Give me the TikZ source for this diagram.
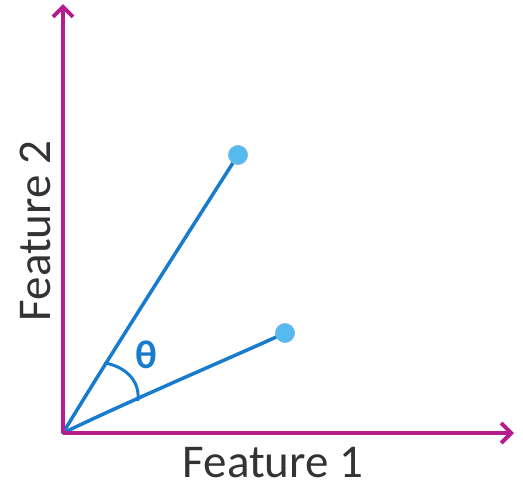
\documentclass[tikz,border=0pt]{standalone}
\usepackage{fontspec}
\setmainfont{Carlito}
\usetikzlibrary{arrows.meta}
\definecolor{axis}{RGB}{183,28,143}
\definecolor{vec}{RGB}{24,124,206}
\definecolor{dotfill}{RGB}{84,186,240}
\tikzset{
  axisline/.style={draw=axis, line width=4pt, -{Straight Barb[length=10pt,width=20pt,line width=4pt]}},
  vecline/.style={draw=vec, line width=3.5pt, line cap=round, line join=round},
  dotnode/.style={circle, fill=dotfill, draw=vec!50, line width=0.6pt, minimum size=19pt, inner sep=0pt},
  lbl/.style={font=\fontsize{47}{49}\selectfont, text=black!80, anchor=base, inner sep=0pt}
}
\begin{document}
\begin{tikzpicture}[x=1pt,y=-1pt]
\useasboundingbox (0,0) rectangle (523,485);
\coordinate (o) at (63,433);
\coordinate (ytip) at (63,4);
\coordinate (xtip) at (514,433);
\node[dotnode] (p1) at (238,155) {};
\node[dotnode] (p2) at (285,333) {};
\draw[vecline] (o) .. controls (93,383) and (160,277) .. (p1.center);
\draw[vecline] (o) .. controls (140,396) and (235,356) .. (p2.center);
\node[dotnode] at (238,155) {};
\node[dotnode] at (285,333) {};
\draw[vecline, line width=3pt] (105,363) .. controls (122,366) and (140,378) .. (138,400);
\node[text=vec, font=\fontsize{40}{40}\selectfont\bfseries, inner sep=0pt] (th) at (146,355) {θ};
\draw[axisline] (o) -- (ytip);
\draw[axisline] (o) -- (xtip);
\node[lbl] (f1) at (273,477) {Feature 1};
\node[lbl, rotate=90] (f2) at (50,231) {Feature 2};
\end{tikzpicture}
\end{document}
